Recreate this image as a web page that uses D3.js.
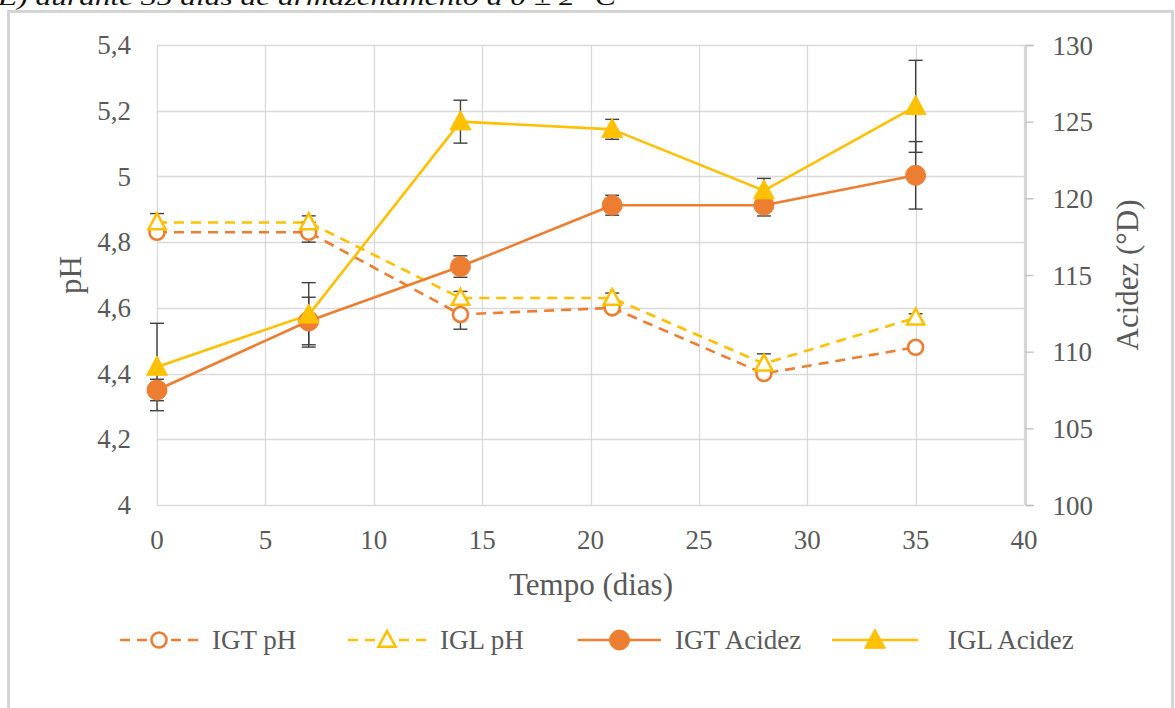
<!DOCTYPE html>
<html>
<head>
<meta charset="utf-8">
<script src="https://cdn.jsdelivr.net/npm/d3@7"></script>
<style>
  html, body { margin: 0; padding: 0; background: #ffffff; }
  svg { display: block; }
  text { font-family: "Liberation Serif", "Times New Roman", serif; }
</style>
</head>
<body>
<svg id="chart" width="1175" height="708"></svg>
<script>
// Storage time (days)
const days = [0, 7, 14, 21, 28, 35];

// pH (left axis)
const igtPH = [4.83, 4.83, 4.58, 4.60, 4.40, 4.48];
const igtPHErr = [0.01, 0.03, 0.045, 0.01, 0.01, 0.0];
const iglPH = [4.86, 4.86, 4.63, 4.63, 4.43, 4.57];
const iglPHErr = [0.027, 0.02, 0.02, 0.015, 0.03, 0.012];

// Acidity in °Dornic (right axis)
const igtAc = [107.5, 112.0, 115.55, 119.55, 119.55, 121.5];
const igtAcErr = [0.7, 1.55, 0.7, 0.65, 0.7, 2.2];
const iglAc = [109.0, 112.4, 125.0, 124.5, 120.5, 126.0];
const iglAcErr = [2.85, 2.1, 1.4, 0.65, 0.8, 3.0];

// Axis ticks
const xTicks = [0, 5, 10, 15, 20, 25, 30, 35, 40];
const phTicks = [4, 4.2, 4.4, 4.6, 4.8, 5, 5.2, 5.4];
const acTicks = [100, 105, 110, 115, 120, 125, 130];

const seriesNames = ["IGT pH", "IGL pH", "IGT Acidez", "IGL Acidez"];

const ORANGE = "#ED7D31";
const GOLD = "#FFC000";
const TEXT = "#595959";
const GRID = "#d9d9d9";

const svg = d3.select("#chart");

const x = d3.scaleLinear().domain([0, 40]).range([157, 1024]);
const yL = d3.scaleLinear().domain([4, 5.4]).range([505, 45]);
const yR = d3.scaleLinear().domain([100, 130]).range([505, 45]);

// caption line above the chart frame
svg.append("text")
  .attr("x", -2).attr("y", 5)
  .attr("font-size", 24).attr("font-style", "italic")
  .attr("fill", "#111")
  .attr("textLength", 618).attr("lengthAdjust", "spacingAndGlyphs")
  .text("E) durante 35 dias de armazenamento a 0 ± 2 °C");

// chart frame
svg.append("rect")
  .attr("x", 8.5).attr("y", 11.5).attr("width", 1164).attr("height", 710)
  .attr("fill", "#fff").attr("stroke", "#d4d4d4").attr("stroke-width", 3);

// grid
const grid = svg.append("g");
grid.selectAll("line.h").data(phTicks).join("line")
  .attr("x1", x(0)).attr("x2", x(40))
  .attr("y1", d => Math.round(yL(d)) + 0.5).attr("y2", d => Math.round(yL(d)) + 0.5)
  .attr("stroke", GRID).attr("stroke-width", 1.3);
grid.selectAll("line.v").data(xTicks).join("line")
  .attr("y1", yL(5.4)).attr("y2", yL(4))
  .attr("x1", d => Math.round(x(d)) + 0.5).attr("x2", d => Math.round(x(d)) + 0.5)
  .attr("stroke", GRID).attr("stroke-width", 1.3);

// right axis
const rightAxis = svg.append("g")
  .attr("transform", `translate(${Math.round(x(40)) + 1.5},0)`)
  .call(d3.axisRight(yR).tickValues(acTicks).tickSize(8).tickPadding(19).tickFormat(d3.format("d")));
rightAxis.select(".domain").attr("stroke", "#bfbfbf").attr("stroke-width", 1.3);
rightAxis.selectAll(".tick line").attr("stroke", "#bfbfbf").attr("stroke-width", 1.3);
rightAxis.selectAll("text").attr("fill", TEXT).attr("font-size", 27)
  .attr("font-family", "Liberation Serif, serif").attr("dy", "0.34em");

// left tick labels
const fmtComma = d => d3.format("~g")(d).replace(".", ",");
svg.append("g").selectAll("text").data(phTicks).join("text")
  .attr("x", 131).attr("y", d => yL(d)).attr("dy", "0.34em")
  .attr("text-anchor", "end").attr("font-size", 27).attr("fill", TEXT)
  .text(fmtComma);

// bottom tick labels
svg.append("g").selectAll("text").data(xTicks).join("text")
  .attr("x", d => x(d)).attr("y", 540).attr("dy", "0.34em")
  .attr("text-anchor", "middle").attr("font-size", 27).attr("fill", TEXT)
  .text(d => d);

// axis titles
svg.append("text").attr("transform", "translate(70,275) rotate(-90)")
  .attr("text-anchor", "middle").attr("dy", "0.34em")
  .attr("font-size", 31).attr("fill", TEXT).text("pH");
svg.append("text").attr("transform", "translate(1127,275) rotate(-90)")
  .attr("text-anchor", "middle").attr("dy", "0.34em")
  .attr("font-size", 31).attr("fill", TEXT).text("Acidez (°D)");
svg.append("text").attr("x", 591).attr("y", 584).attr("dy", "0.34em")
  .attr("text-anchor", "middle").attr("font-size", 31).attr("fill", TEXT)
  .text("Tempo (dias)");

// series definitions
const series = [
  { name: seriesNames[0], vals: igtPH, err: igtPHErr, y: yL, color: ORANGE, dashed: true, shape: "circle", filled: false },
  { name: seriesNames[1], vals: iglPH, err: iglPHErr, y: yL, color: GOLD, dashed: true, shape: "triangle", filled: false },
  { name: seriesNames[2], vals: igtAc, err: igtAcErr, y: yR, color: ORANGE, dashed: false, shape: "circle", filled: true },
  { name: seriesNames[3], vals: iglAc, err: iglAcErr, y: yR, color: GOLD, dashed: false, shape: "triangle", filled: true }
];

function drawMarker(g, shape, filled, color, cx, cy) {
  if (shape === "circle") {
    g.append("circle").attr("cx", cx).attr("cy", cy)
      .attr("r", filled ? 10 : 7.5)
      .attr("fill", filled ? color : "#fff")
      .attr("stroke", color).attr("stroke-width", filled ? 1 : 2.6);
  } else {
    const s = filled ? 11 : 9;
    const pts = [[cx, cy - s], [cx + s * 0.95, cy + s * 0.75], [cx - s * 0.95, cy + s * 0.75]];
    g.append("path").attr("d", "M" + pts.map(p => p.join(",")).join("L") + "Z")
      .attr("fill", filled ? color : "#fff")
      .attr("stroke", color).attr("stroke-width", filled ? 1 : 2.6)
      .attr("stroke-linejoin", "miter");
  }
}

const plot = svg.append("g");

// lines
series.forEach(s => {
  const line = d3.line().x((d, i) => x(days[i])).y(d => s.y(d));
  plot.append("path").datum(s.vals)
    .attr("d", line).attr("fill", "none")
    .attr("stroke", s.color).attr("stroke-width", 2.6)
    .attr("stroke-dasharray", s.dashed ? "10,7" : null)
    .attr("stroke-linejoin", "round");
});

// error bars
series.forEach(s => {
  s.vals.forEach((v, i) => {
    const e = s.err[i];
    if (!e) return;
    const cx = x(days[i]);
    const y1 = s.y(v + e), y2 = s.y(v - e);
    const g = plot.append("g").attr("stroke", "#404040").attr("stroke-width", 1.4);
    g.append("line").attr("x1", cx).attr("x2", cx).attr("y1", y1).attr("y2", y2);
    g.append("line").attr("x1", cx - 7).attr("x2", cx + 7).attr("y1", y1).attr("y2", y1);
    g.append("line").attr("x1", cx - 7).attr("x2", cx + 7).attr("y1", y2).attr("y2", y2);
  });
});

// markers
series.forEach(s => {
  const g = plot.append("g");
  s.vals.forEach((v, i) => drawMarker(g, s.shape, s.filled, s.color, x(days[i]), s.y(v)));
});

// legend
const legendPos = [
  { x0: 120, x1: 198, tx: 212 },
  { x0: 348, x1: 426, tx: 440 },
  { x0: 578, x1: 661, tx: 675 },
  { x0: 832, x1: 918, tx: 948 }
];
const ly = 640;
series.forEach((s, i) => {
  const p = legendPos[i];
  const g = svg.append("g");
  g.append("line").attr("x1", p.x0).attr("x2", p.x1).attr("y1", ly).attr("y2", ly)
    .attr("stroke", s.color).attr("stroke-width", 2.6)
    .attr("stroke-dasharray", s.dashed ? "10,7" : null);
  drawMarker(g, s.shape, s.filled, s.color, (p.x0 + p.x1) / 2, ly);
  g.append("text").attr("x", p.tx).attr("y", ly).attr("dy", "0.34em")
    .attr("font-size", 27).attr("fill", TEXT).text(s.name);
});
</script>
</body>
</html>
